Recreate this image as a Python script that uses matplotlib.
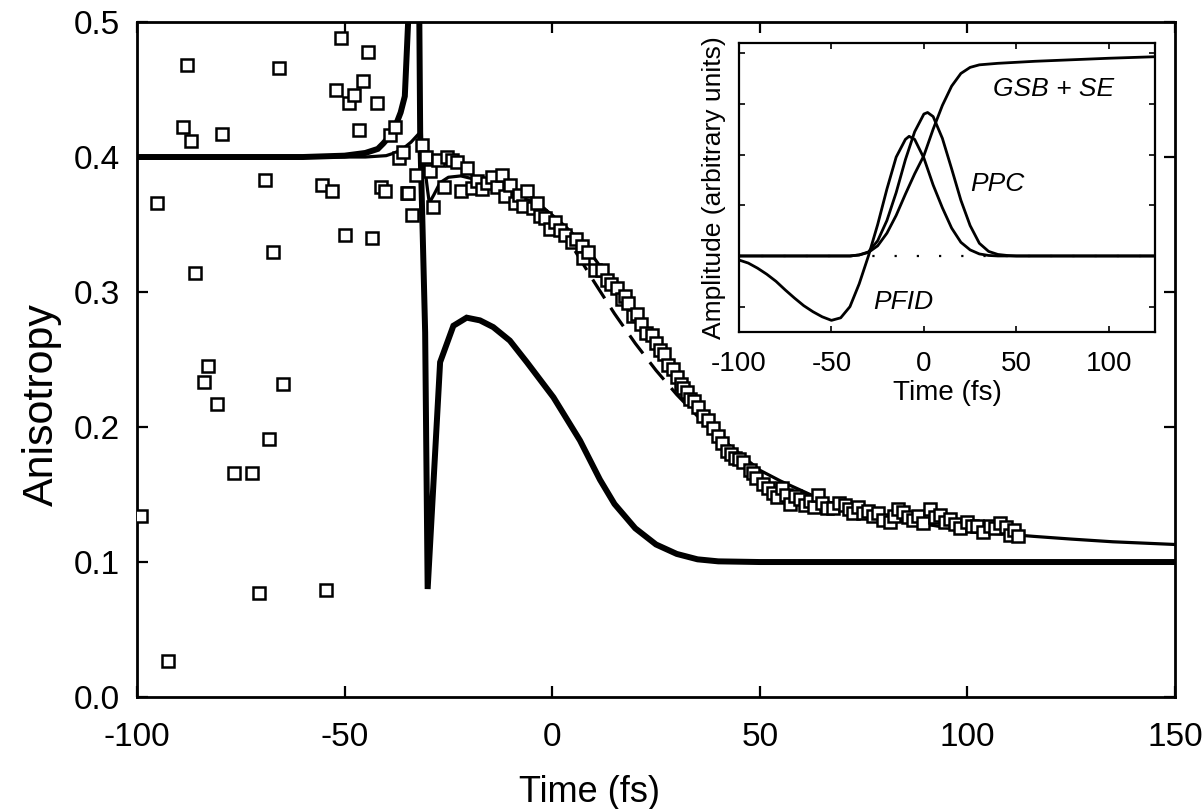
import numpy as np
import matplotlib
matplotlib.use("Agg")
import matplotlib.pyplot as plt

plt.rcParams['font.family'] = ['Liberation Sans', 'DejaVu Sans']
plt.rcParams['axes.unicode_minus'] = False

# measured anisotropy (open squares)
data_t = [-99.0, -95.3, -92.5, -89.0, -87.9, -86.9, -86.0, -83.8, -82.8, -80.8,
          -79.5, -76.6, -72.4, -70.5, -69.2, -68.1, -67.2, -65.8, -64.9, -55.4,
          -54.6, -53.1, -52.1, -50.9, -49.9, -48.9, -47.7, -46.6, -45.5, -44.3,
          -43.4, -42.3, -41.3, -40.2, -39.1, -37.9, -36.9, -36.0, -35.0, -34.8,
          -33.8, -32.9, -31.4, -30.4, -29.4, -28.6, -27.4, -26.0, -25.4, -24.2,
          -23.0, -22.0, -20.6, -19.4, -18.2, -17.0, -15.8, -14.6, -13.4, -12.2,
          -11.4, -10.2, -9.0, -8.0, -7.0, -6.1, -4.6, -3.6, -2.9, -1.7,
          -0.5, 0.6, 1.9, 3.1, 4.7, 5.8, 7.1, 7.5, 8.7, 10.3,
          11.9, 13.1, 14.2, 15.5, 16.7, 17.5, 18.3, 19.5, 20.5, 21.5,
          22.6, 24.0, 25.0, 26.0, 27.0, 28.0, 29.0, 30.0, 31.0, 31.6,
          32.4, 33.2, 34.2, 35.2, 36.4, 37.6, 38.8, 40.0, 41.0, 42.0,
          43.0, 44.0, 45.0, 46.0, 47.6, 48.4, 49.2, 50.8, 52.0, 53.2,
          54.2, 55.3, 56.3, 57.3, 58.5, 59.7, 61.0, 62.1, 63.0, 64.1,
          65.0, 66.1, 67.7, 69.0, 70.5, 71.5, 72.5, 73.7, 74.9, 76.0,
          77.3, 78.5, 79.7, 81.4, 82.4, 83.4, 84.6, 85.8, 87.0, 88.2,
          89.4, 91.0, 92.2, 93.4, 94.6, 95.8, 97.0, 98.2, 99.8, 101.0,
          102.2, 103.8, 105.4, 106.6, 107.8, 109.4, 110.3, 111.2, 112.2]
data_r = [0.134, 0.366, 0.027, 0.422, 0.468, 0.412, 0.314, 0.233, 0.245, 0.217,
          0.417, 0.166, 0.166, 0.077, 0.383, 0.191, 0.330, 0.466, 0.232, 0.379,
          0.079, 0.375, 0.450, 0.488, 0.342, 0.440, 0.446, 0.420, 0.456, 0.478,
          0.340, 0.440, 0.378, 0.375, 0.416, 0.422, 0.399, 0.404, 0.373, 0.373,
          0.357, 0.387, 0.409, 0.400, 0.390, 0.363, 0.398, 0.378, 0.400, 0.398,
          0.396, 0.375, 0.392, 0.377, 0.382, 0.376, 0.381, 0.385, 0.378, 0.387,
          0.371, 0.379, 0.366, 0.372, 0.364, 0.375, 0.362, 0.366, 0.356, 0.355,
          0.347, 0.352, 0.346, 0.342, 0.337, 0.339, 0.334, 0.325, 0.330, 0.316,
          0.316, 0.309, 0.306, 0.303, 0.295, 0.297, 0.292, 0.282, 0.284, 0.276,
          0.270, 0.268, 0.262, 0.257, 0.254, 0.246, 0.243, 0.237, 0.232, 0.229,
          0.226, 0.221, 0.219, 0.215, 0.208, 0.205, 0.199, 0.193, 0.188, 0.182,
          0.180, 0.177, 0.176, 0.174, 0.168, 0.166, 0.162, 0.158, 0.155, 0.151,
          0.148, 0.155, 0.150, 0.143, 0.149, 0.147, 0.142, 0.145, 0.141, 0.150,
          0.144, 0.140, 0.140, 0.144, 0.142, 0.139, 0.136, 0.141, 0.136, 0.138,
          0.134, 0.136, 0.131, 0.130, 0.134, 0.139, 0.137, 0.133, 0.131, 0.134,
          0.129, 0.139, 0.133, 0.135, 0.130, 0.132, 0.128, 0.125, 0.130, 0.127,
          0.127, 0.122, 0.127, 0.125, 0.129, 0.126, 0.120, 0.124, 0.119]

# full calculation (thin solid)
fit_t = [-100, -60, -45, -40, -38, -36, -34, -32.2, -31, -30, -29.6, -28.5, -27,
         -25, -22, -18, -15, -10, -5, -2, 0, 3, 6, 9, 12, 15.5, 20, 25, 30, 35,
         38, 42, 46, 50, 55, 60, 65, 70, 76, 82, 92, 102, 112, 116, 125, 135, 150]
fit_r = [0.400, 0.400, 0.400, 0.401, 0.403, 0.406, 0.411, 0.417, 0.400, 0.375,
         0.366, 0.372, 0.381, 0.385, 0.386, 0.383, 0.379, 0.373, 0.367, 0.362,
         0.357, 0.349, 0.340, 0.330, 0.317, 0.302, 0.283, 0.261, 0.240, 0.216,
         0.202, 0.188, 0.178, 0.168, 0.160, 0.153, 0.146, 0.141, 0.136, 0.131,
         0.127, 0.122, 0.120, 0.119, 0.117, 0.115, 0.113]

# dashed calculation
dash_t = [-5, -2, 0, 5, 10, 15, 20, 25, 30, 35, 40, 46]
dash_r = [0.367, 0.362, 0.355, 0.333, 0.308, 0.284, 0.262, 0.242, 0.224, 0.208,
          0.193, 0.178]

# thick curve
thick_t = [-100, -60, -50, -45, -42, -40.7, -39, -37.5, -36.5, -35.5, -34.7,
           -34.3, -32.3, -32.0, -31.8, -30.6, -30.0, -27.0, -23.8, -20.6, -17.4,
           -14.2, -10.2, -6.1, 0.3, 6.7, 11.5, 15, 20, 25, 30, 35, 40, 50, 150]
thick_r = [0.400, 0.400, 0.401, 0.403, 0.406, 0.410, 0.416, 0.425, 0.433, 0.445,
           0.500, 0.600, 0.600, 0.500, 0.418, 0.270, 0.080, 0.248, 0.275, 0.281,
           0.279, 0.274, 0.264, 0.248, 0.222, 0.190, 0.161, 0.143, 0.125, 0.113,
           0.106, 0.102, 0.1005, 0.100, 0.100]

# inset curves
pfid_t = [-100, -95, -90, -85, -80, -75, -70, -65, -60, -55, -50, -45, -40, -35,
          -30, -25, -20, -15, -10, -8, -5, 0, 5, 10, 15, 20, 25, 30, 35, 40, 125]
pfid_a = [-0.08, -0.14, -0.24, -0.36, -0.50, -0.67, -0.83, -0.98, -1.10, -1.20,
          -1.27, -1.22, -1.00, -0.55, 0.0, 0.62, 1.32, 1.95, 2.30, 2.36, 2.30,
          1.93, 1.40, 0.95, 0.55, 0.27, 0.12, 0.04, 0.01, 0.0, 0.0]
ppc_t = [-100, -40, -35, -30, -25, -20, -15, -10, -5, 0, 2, 5, 10, 15, 20, 25,
         30, 35, 40, 45, 50, 125]
ppc_a = [0.0, 0.0, 0.02, 0.08, 0.30, 0.70, 1.25, 1.90, 2.45, 2.80, 2.83, 2.75,
         2.32, 1.72, 1.10, 0.60, 0.25, 0.09, 0.03, 0.01, 0.0, 0.0]
gsb_t = [-100, -40, -35, -30, -25, -20, -15, -10, -5, 0, 5, 10, 15, 20, 25, 30,
         40, 60, 80, 100, 125]
gsb_a = [0.0, 0.0, 0.02, 0.07, 0.20, 0.45, 0.80, 1.22, 1.62, 1.98, 2.50, 2.97,
         3.35, 3.60, 3.72, 3.77, 3.80, 3.84, 3.87, 3.90, 3.93]

fig = plt.figure(figsize=(12.04, 8.09), dpi=100)
ax = fig.add_axes([0.1138, 0.1384, 0.8621, 0.8344])

ax.plot(thick_t, thick_r, color='black', lw=4.3, solid_joinstyle='miter', zorder=2)
ax.plot(fit_t, fit_r, color='black', lw=2.3, zorder=3)
ax.plot(dash_t, dash_r, color='black', lw=2.3, dashes=(7, 3.5), zorder=3)
ax.plot(data_t, data_r, 's', ms=8.5, mfc='white', mec='black', mew=1.8, zorder=4)

ax.set_xlim(-100, 150)
ax.set_ylim(0.0, 0.5)
ax.set_xticks([-100, -50, 0, 50, 100, 150])
ax.set_yticks([0.0, 0.1, 0.2, 0.3, 0.4, 0.5])
ax.set_yticklabels(['0.0', '0.1', '0.2', '0.3', '0.4', '0.5'])
ax.tick_params(direction='in', top=True, right=True, length=8, width=1.6,
               labelsize=24)
ax.tick_params(axis='x', pad=18)
ax.tick_params(axis='y', pad=12)
for s in ax.spines.values():
    s.set_linewidth(2.0)
ax.set_xlabel('Time (fs)', fontsize=26)
ax.set_ylabel('Anisotropy', fontsize=31)
ax.xaxis.set_label_coords(0.436, -0.115)
ax.yaxis.set_label_coords(-0.0723, 0.434)

# inset
ins = fig.add_axes([0.6138, 0.5896, 0.3455, 0.3572])
ins.set_facecolor('white')
ins.axhline(0, color='black', lw=1.6, ls=(0, (1, 9)), zorder=1)
ins.plot(pfid_t, pfid_a, color='black', lw=2.0, zorder=2)
ins.plot(ppc_t, ppc_a, color='black', lw=2.0, zorder=2)
ins.plot(gsb_t, gsb_a, color='black', lw=2.0, zorder=2)
ins.text(70, 3.29, 'GSB + SE', fontsize=19, style='italic', ha='center', va='center')
ins.text(39.6, 1.41, 'PPC', fontsize=19, style='italic', ha='center', va='center')
ins.text(-11.2, -0.9, 'PFID', fontsize=19, style='italic', ha='center', va='center')
ins.set_xlim(-100, 125)
ins.set_ylim(-1.5, 4.2)
ins.set_xticks([-100, -50, 0, 50, 100])
ins.set_yticks([-1, 0, 1, 2, 3, 4])
ins.set_yticklabels([])
ins.tick_params(direction='in', top=True, right=True, length=4, width=1.2,
                labelsize=20)
ins.tick_params(axis='x', pad=14)
for s in ins.spines.values():
    s.set_linewidth(1.6)
ins.set_xlabel('Time (fs)', fontsize=20, labelpad=2)
ins.set_ylabel('Amplitude (arbitrary units)', fontsize=19, labelpad=6)

plt.savefig('out.png', dpi=100)
